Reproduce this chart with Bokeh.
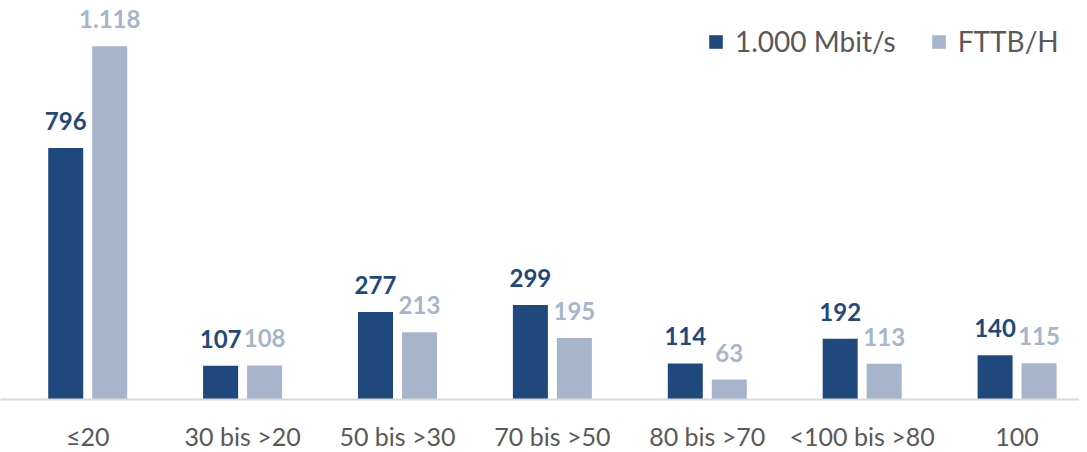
from bokeh.plotting import figure
from bokeh.models import ColumnDataSource, Range1d, FixedTicker, Legend, LegendItem
from bokeh.transform import dodge
from bokeh.core.properties import value
from bokeh.embed import file_html
from bokeh.resources import INLINE

categories = ["≤20", "30 bis >20", "50 bis >30", "70 bis >50", "80 bis >70", "<100 bis >80", "100"]
gigabit = [796, 107, 277, 299, 114, 192, 140]
fttbh = [1118, 108, 213, 195, 63, 113, 115]
series_names = ["1.000 Mbit/s", "FTTB/H"]

DARK = "#1F497D"
LIGHT = "#A6B5CB"
GRAY = "#595959"
FONT = "Lato"


def de_fmt(v):
    return f"{v:,}".replace(",", ".")


src = ColumnDataSource(dict(
    x=list(range(len(categories))),
    g=gigabit,
    f=fttbh,
    g_lbl=[de_fmt(v) for v in gigabit],
    f_lbl=[de_fmt(v) for v in fttbh],
))

p = figure(frame_width=1079, frame_height=399,
           x_range=Range1d(-0.563, 6.403), y_range=Range1d(0, 1263),
           output_backend="svg", toolbar_location=None,
           min_border_left=0, min_border_right=0, min_border_top=0, min_border_bottom=0)

off = 0.142
bw = 0.226
r1 = p.vbar(x=dodge("x", -off, range=p.x_range), top="g", width=bw, source=src,
            fill_color=DARK, line_color=None)
r2 = p.vbar(x=dodge("x", off, range=p.x_range), top="f", width=bw, source=src,
            fill_color=LIGHT, line_color=None)

p.text(x=dodge("x", -off, range=p.x_range), y="g", text="g_lbl", source=src,
       text_align="center", text_baseline="alphabetic", y_offset=-27,
       text_font=value(FONT), text_font_style="bold", text_font_size="24px",
       text_color=DARK)
p.text(x=dodge("x", off, range=p.x_range), y="f", text="f_lbl", source=src,
       text_align="center", text_baseline="alphabetic", y_offset=-27,
       text_font=value(FONT), text_font_style="bold", text_font_size="24px",
       text_color=LIGHT)

p.xaxis.ticker = FixedTicker(ticks=list(range(len(categories))))
p.xaxis.major_label_overrides = {i: c for i, c in enumerate(categories)}
p.xaxis.major_tick_line_color = None
p.xaxis.minor_tick_line_color = None
p.xaxis.axis_line_color = "#D9D9D9"
p.xaxis.axis_line_width = 2
p.xaxis.major_label_text_font = FONT
p.xaxis.major_label_text_font_size = "25px"
p.xaxis.major_label_text_color = GRAY
p.xaxis.major_label_standoff = 15
p.yaxis.visible = False
p.xgrid.visible = False
p.ygrid.visible = False
p.outline_line_color = None

legend = Legend(items=[LegendItem(label=series_names[0], renderers=[r1]),
                       LegendItem(label=series_names[1], renderers=[r2])],
                orientation="horizontal", location=(707, 341),
                glyph_width=17, glyph_height=17, label_standoff=11, spacing=34,
                padding=0, margin=0, border_line_alpha=0, background_fill_alpha=0,
                label_text_font=FONT, label_text_font_size="28px",
                label_text_color=GRAY)
p.add_layout(legend, "center")

open("out.html", "w").write(file_html(p, INLINE))
